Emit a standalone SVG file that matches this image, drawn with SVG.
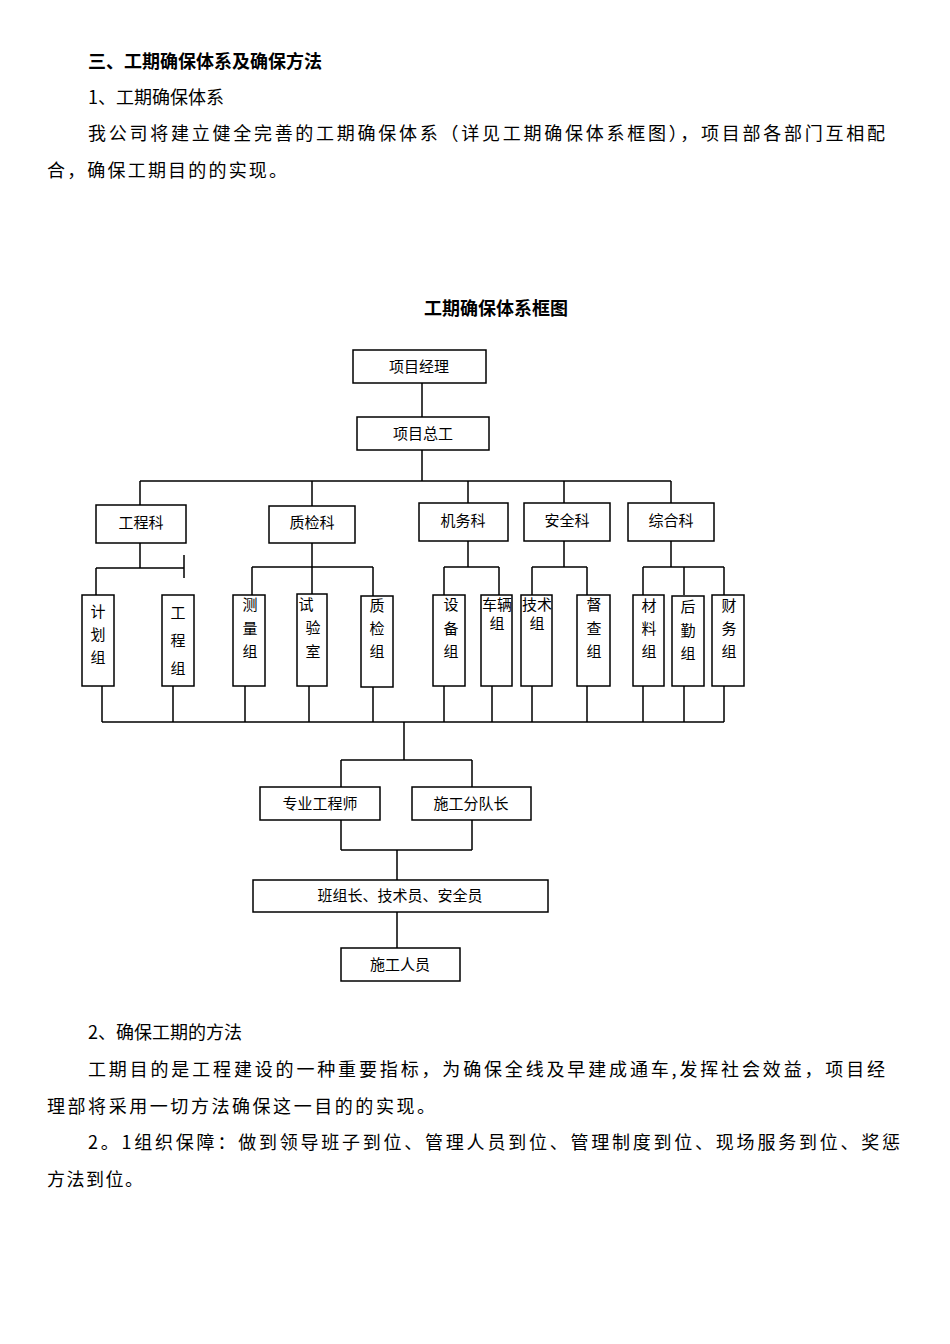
<svg xmlns="http://www.w3.org/2000/svg" width="950" height="1344" viewBox="0 0 950 1344">
<style>
text{font-family:"Noto Sans CJK SC","Liberation Sans",sans-serif;fill:#000}
.p{font-size:18px}
.b{font-size:18px;font-weight:bold}
.n{font-size:15px;text-anchor:middle}
rect{fill:#fff;stroke:#000;stroke-width:1.5}
#c path{fill:none;stroke:#000;stroke-width:1.5}
</style>
<rect x="0" y="0" width="950" height="1344" style="stroke:none"/>
<text class="b" x="88" y="68">三、工期确保体系及确保方法</text>
<text class="p" x="88" y="104">1、工期确保体系</text>
<text class="p" x="88" y="140" textLength="797" lengthAdjust="spacing">我公司将建立健全完善的工期确保体系（详见工期确保体系框图），项目部各部门互相配</text>
<text class="p" x="47" y="177" textLength="240" lengthAdjust="spacing">合，确保工期目的的实现。</text>
<text class="b" x="496" y="315" text-anchor="middle">工期确保体系框图</text>
<text class="p" x="88" y="1039">2、确保工期的方法</text>
<text class="p" x="88" y="1076" textLength="797" lengthAdjust="spacing">工期目的是工程建设的一种重要指标，为确保全线及早建成通车,发挥社会效益，项目经</text>
<text class="p" x="47" y="1113" textLength="388" lengthAdjust="spacing">理部将采用一切方法确保这一目的的实现。</text>
<text class="p" x="88" y="1149" textLength="812" lengthAdjust="spacing">2。1组织保障：做到领导班子到位、管理人员到位、管理制度到位、现场服务到位、奖惩</text>
<text class="p" x="47" y="1186" textLength="96" lengthAdjust="spacing">方法到位。</text>
<g id="c">
<path d="M422 383V417M422 450V481M140 481H671M140 481V505M312 481V506M468 481V503M564 481V503M671 481V503"/>
<path d="M140 543V568M96 568H184M184 555V578M96 568V595"/>
<path d="M312 543V567M252 567H373M252 567V595M312 567V594M373 567V596"/>
<path d="M468 541V567M444 567H499M444 567V595M499 567V595"/>
<path d="M564 541V567M532 567H587M532 567V595M587 567V595"/>
<path d="M671 541V567M643 567H724M643 567V595M684 567V595M724 567V595"/>
<path d="M102 686V722M173 686V722M245 686V722M309 686V722M373 687V722M444 686V722M492 686V722M532 686V722M587 686V722M643 686V722M684 686V722M724 686V722M102 722H724"/>
<path d="M404 722V760M341 760H472M341 760V787M472 760V787M341 820V850M472 820V850M341 850H472M397 850V880M397 912V948"/>
</g>
<g id="n1"><rect x="353" y="350" width="133" height="33"/><text class="n" x="419" y="372">项目经理</text></g>
<g id="n2"><rect x="357" y="417" width="132" height="33"/><text class="n" x="423" y="439">项目总工</text></g>
<g id="n3"><rect x="96" y="505" width="90" height="38"/><text class="n" x="141" y="528">工程科</text></g>
<g id="n4"><rect x="269" y="506" width="86" height="37"/><text class="n" x="312" y="528">质检科</text></g>
<g id="n5"><rect x="419" y="503" width="89" height="38"/><text class="n" x="463" y="526">机务科</text></g>
<g id="n6"><rect x="524" y="503" width="86" height="38"/><text class="n" x="567" y="526">安全科</text></g>
<g id="n7"><rect x="628" y="503" width="86" height="38"/><text class="n" x="671" y="526">综合科</text></g>
<g id="g1"><rect x="82" y="595" width="32" height="91"/><text class="n" x="98" y="617">计</text><text class="n" x="98" y="640">划</text><text class="n" x="98" y="663">组</text></g>
<g id="g2"><rect x="162" y="595" width="32" height="91"/><text class="n" x="178" y="618">工</text><text class="n" x="178" y="646">程</text><text class="n" x="178" y="674">组</text></g>
<g id="g3"><rect x="233" y="595" width="32" height="91"/><text class="n" x="250" y="610">测</text><text class="n" x="250" y="634">量</text><text class="n" x="250" y="657">组</text></g>
<g id="g4"><rect x="297" y="594" width="30" height="92"/><text class="n" x="306" y="610">试</text><text class="n" x="313" y="633">验</text><text class="n" x="313" y="657">室</text></g>
<g id="g5"><rect x="361" y="596" width="32" height="91"/><text class="n" x="377" y="611">质</text><text class="n" x="377" y="634">检</text><text class="n" x="377" y="657">组</text></g>
<g id="g6"><rect x="433" y="595" width="32" height="91"/><text class="n" x="451" y="610">设</text><text class="n" x="451" y="634">备</text><text class="n" x="451" y="657">组</text></g>
<g id="g7"><rect x="481" y="595" width="31" height="91"/><text class="n" x="497" y="610">车辆</text><text class="n" x="497" y="629">组</text></g>
<g id="g8"><rect x="521" y="595" width="31" height="91"/><text class="n" x="537" y="610">技术</text><text class="n" x="537" y="629">组</text></g>
<g id="g9"><rect x="577" y="595" width="33" height="91"/><text class="n" x="594" y="610">督</text><text class="n" x="594" y="634">查</text><text class="n" x="594" y="657">组</text></g>
<g id="g10"><rect x="633" y="595" width="31" height="91"/><text class="n" x="649" y="611">材</text><text class="n" x="649" y="634">料</text><text class="n" x="649" y="657">组</text></g>
<g id="g11"><rect x="672" y="596" width="32" height="90"/><text class="n" x="688" y="612">后</text><text class="n" x="688" y="636">勤</text><text class="n" x="688" y="659">组</text></g>
<g id="g12"><rect x="712" y="595" width="32" height="91"/><text class="n" x="729" y="611">财</text><text class="n" x="729" y="634">务</text><text class="n" x="729" y="657">组</text></g>
<g id="n8"><rect x="260" y="787" width="120" height="33"/><text class="n" x="320" y="809">专业工程师</text></g>
<g id="n9"><rect x="412" y="787" width="119" height="33"/><text class="n" x="471" y="809">施工分队长</text></g>
<g id="n10"><rect x="253" y="880" width="295" height="32"/><text class="n" x="400" y="901">班组长、技术员、安全员</text></g>
<g id="n11"><rect x="341" y="948" width="119" height="33"/><text class="n" x="400" y="970">施工人员</text></g>
</svg>
